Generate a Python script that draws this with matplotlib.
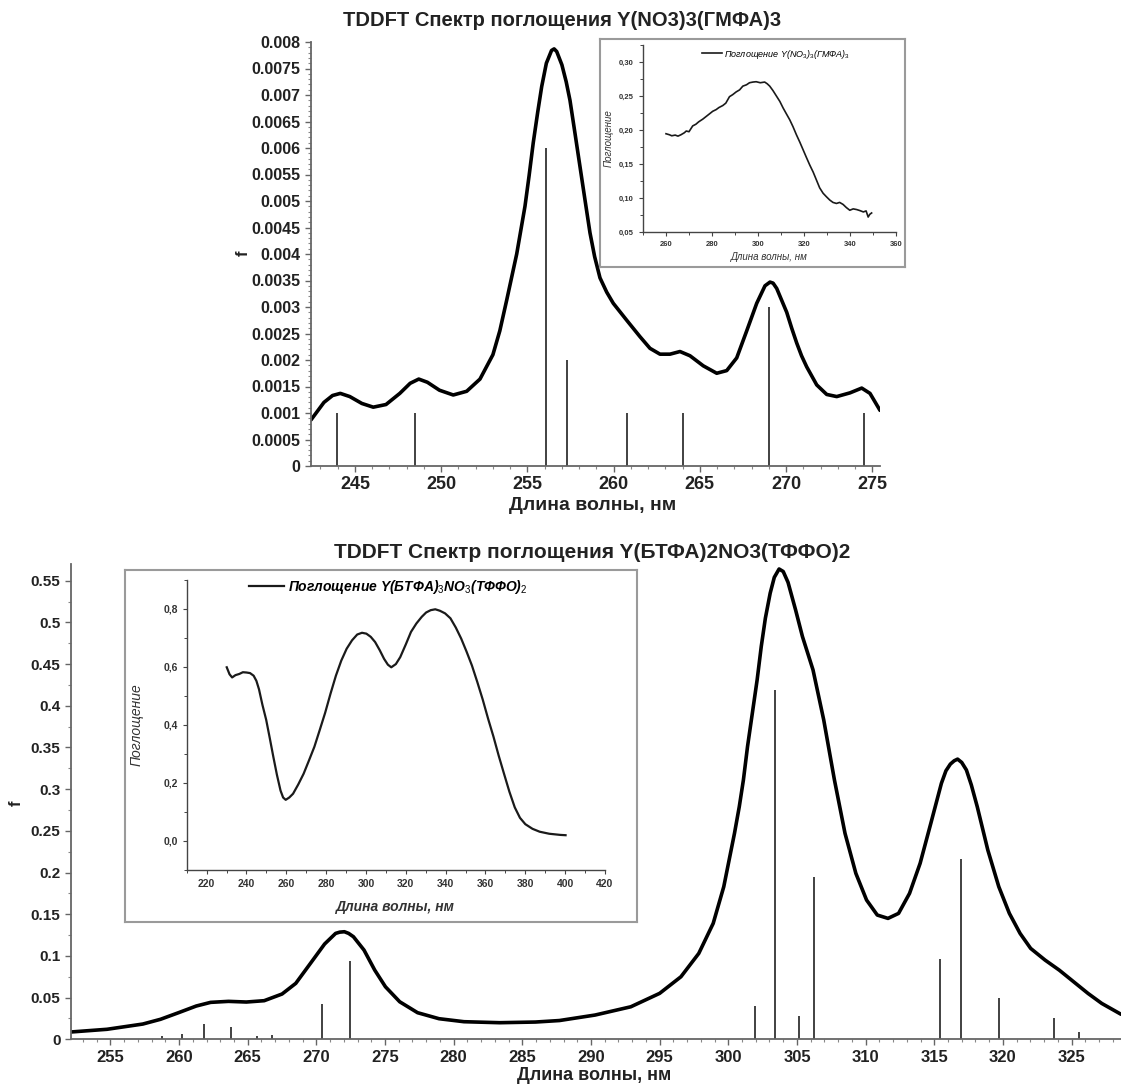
import matplotlib
matplotlib.use('Agg')
import matplotlib.pyplot as plt
from matplotlib.ticker import MultipleLocator

plt.rcParams['font.family'] = ['Liberation Sans', 'DejaVu Sans']
plt.rcParams['mathtext.fontset'] = 'custom'
plt.rcParams['mathtext.rm'] = 'Liberation Sans'
plt.rcParams['mathtext.it'] = 'Liberation Sans:italic'
plt.rcParams['mathtext.bf'] = 'Liberation Sans:bold'

# ---------- верхний график: Y(NO3)3(ГМФА)3 ----------
top_x = [242.45, 243.2, 243.7, 244.15, 244.7, 245.4, 246.06, 246.8, 247.6, 248.2,
         248.7, 249.2, 249.9, 250.7, 251.48, 252.25, 253.0, 253.4, 253.8, 254.38,
         254.86, 255.1, 255.34, 255.6, 255.83, 256.1, 256.4, 256.55, 256.7, 257.0,
         257.25, 257.47, 257.75, 258.05, 258.35, 258.63, 258.9, 259.21, 259.6, 259.98,
         260.76, 261.53, 262.11, 262.69, 263.27, 263.85, 264.43, 265.2, 265.98, 266.56,
         267.14, 267.72, 268.3, 268.78, 269.07, 269.25, 269.46, 270.04, 270.33, 270.62,
         270.9, 271.2, 271.78, 272.36, 272.94, 273.71, 274.39, 274.87, 275.45]
top_f = [0.00087, 0.00120, 0.00133, 0.00137, 0.00131, 0.00118, 0.00111, 0.00116, 0.00137, 0.00156,
         0.00164, 0.00158, 0.00143, 0.00134, 0.00141, 0.00164, 0.00210, 0.00255, 0.00313, 0.00400,
         0.00490, 0.00548, 0.00610, 0.00668, 0.00716, 0.00760, 0.00784, 0.00787, 0.00782, 0.00757,
         0.00725, 0.00690, 0.00630, 0.00565, 0.00500, 0.00440, 0.00395, 0.00355, 0.00328, 0.00307,
         0.00275, 0.00244, 0.00222, 0.00211, 0.00211, 0.00216, 0.00208, 0.00189, 0.00175, 0.00180,
         0.00204, 0.00255, 0.00307, 0.00340, 0.00347, 0.00345, 0.00335, 0.00290, 0.00260, 0.00232,
         0.00208, 0.00187, 0.00153, 0.00135, 0.00131, 0.00138, 0.00147, 0.00137, 0.00105]
top_stick_x = [243.95, 248.5, 256.1, 257.3, 260.76, 264.0, 269.0, 274.5]
top_stick_f = [0.001, 0.001, 0.006, 0.002, 0.001, 0.001, 0.003, 0.001]
top_yticks = [0, 0.0005, 0.001, 0.0015, 0.002, 0.0025, 0.003, 0.0035, 0.004,
              0.0045, 0.005, 0.0055, 0.006, 0.0065, 0.007, 0.0075, 0.008]
top_ylabels = ['0', '0.0005', '0.001', '0.0015', '0.002', '0.0025', '0.003', '0.0035', '0.004',
               '0.0045', '0.005', '0.0055', '0.006', '0.0065', '0.007', '0.0075', '0.008']
top_xticks = [245, 250, 255, 260, 265, 270, 275]

# вставка: экспериментальный спектр
ins1_x = [260, 261.5, 262.5, 264, 265.2, 266.5, 268, 268.8, 270, 271.6, 273, 274.2, 276, 277.5,
          279, 280.3, 281.8, 283, 284.7, 286, 287.6, 289, 290.5, 292, 293.4, 295, 296.3, 297.8,
          299.2, 301, 302.9, 304, 305.1, 306.5, 308, 309.5, 310.9, 312.3, 313.8, 315.2, 316.7,
          318.2, 319.6, 321, 322.5, 324, 325.4, 326.8, 328.3, 329.7, 331.2, 332.6, 334.1, 335.5,
          337, 338.4, 339.9, 341.4, 342.9, 344.3, 345.8, 347, 347.9, 348.6, 349.4]
ins1_a = [0.1945, 0.1930, 0.1915, 0.1925, 0.1910, 0.1930, 0.1960, 0.1985, 0.1975, 0.2060, 0.2085, 0.2120,
          0.2160, 0.2200, 0.2240, 0.2275, 0.2300, 0.2330, 0.2360, 0.2395, 0.2490, 0.2520, 0.2560,
          0.2590, 0.2645, 0.2665, 0.2695, 0.2705, 0.2710, 0.2695, 0.2705, 0.2680, 0.2645, 0.2580,
          0.2500, 0.2420, 0.2325, 0.2240, 0.2150, 0.2050, 0.1930, 0.1820, 0.1710, 0.1600, 0.1485,
          0.1380, 0.1265, 0.1150, 0.1070, 0.1020, 0.0970, 0.0935, 0.0920, 0.0935, 0.0905, 0.0860,
          0.0820, 0.0840, 0.0830, 0.0815, 0.0795, 0.0810, 0.0720, 0.0760, 0.0780]
ins1_yticks = [0.05, 0.10, 0.15, 0.20, 0.25, 0.30]
ins1_ylabels = ['0,05', '0,10', '0,15', '0,20', '0,25', '0,30']
ins1_xticks = [260, 280, 300, 320, 340, 360]

# ---------- нижний график: Y(БТФА)2NO3(ТФФО)2 ----------
bot_x = [252.15, 254.75, 257.36, 258.65, 259.96, 261.25, 262.3, 263.6, 264.9, 266.2, 267.5,
         268.5, 269.57, 270.6, 271.4, 271.7, 272.04, 272.35, 272.7, 273.47, 274.25, 275.03,
         276.07, 277.37, 278.93, 280.75, 283.35, 285.95, 287.7, 290.3, 292.9, 295.0, 296.55,
         297.85, 298.9, 299.67, 300.45, 300.8, 301.1, 301.4, 301.75, 302.1, 302.4, 302.7,
         303.05, 303.35, 303.7, 304.0, 304.35, 304.9, 305.4, 306.17, 306.95, 307.73, 308.5,
         309.29, 310.07, 310.85, 311.63, 312.4, 313.2, 313.97, 314.75, 315.52, 315.85, 316.17,
         316.45, 316.7, 317.0, 317.34, 317.7, 318.13, 318.9, 319.7, 320.47, 321.25, 322.02,
         323.07, 324.1, 325.15, 326.2, 327.2, 328.6]
bot_f = [0.0088, 0.0120, 0.0183, 0.0240, 0.0319, 0.0399, 0.0443, 0.0455, 0.0447, 0.0463, 0.0543,
         0.0671, 0.0911, 0.1143, 0.1270, 0.1285, 0.1290, 0.1270, 0.1230, 0.1070, 0.0830, 0.0630,
         0.0450, 0.0319, 0.0247, 0.0211, 0.0199, 0.0207, 0.0225, 0.0291, 0.0390, 0.0551, 0.0750,
         0.1030, 0.1390, 0.1830, 0.2470, 0.2790, 0.3110, 0.3510, 0.3910, 0.4310, 0.4710, 0.5050,
         0.5350, 0.5540, 0.5640, 0.5610, 0.5480, 0.5150, 0.4830, 0.4430, 0.3830, 0.3110, 0.2470,
         0.1990, 0.1670, 0.1490, 0.1450, 0.1510, 0.1750, 0.2110, 0.2590, 0.3070, 0.3220, 0.3300,
         0.3340, 0.3360, 0.3320, 0.3230, 0.3050, 0.2790, 0.2270, 0.1830, 0.1510, 0.1270, 0.1090,
         0.0950, 0.0830, 0.0690, 0.0550, 0.0430, 0.0300]
bot_stick_x = [258.77, 260.25, 261.85, 263.8, 265.7, 266.78, 270.4, 272.43,
               301.96, 303.41, 305.13, 306.25, 315.42, 316.96, 319.74, 323.7, 325.53]
bot_stick_f = [0.004, 0.0064, 0.018, 0.0144, 0.004, 0.0055, 0.0423, 0.0943,
               0.0403, 0.419, 0.0283, 0.195, 0.0959, 0.2166, 0.0491, 0.0252, 0.0084]
bot_yticks = [0, 0.05, 0.1, 0.15, 0.2, 0.25, 0.3, 0.35, 0.4, 0.45, 0.5, 0.55]
bot_ylabels = ['0', '0.05', '0.1', '0.15', '0.2', '0.25', '0.3', '0.35', '0.4', '0.45', '0.5', '0.55']
bot_xticks = [255, 260, 265, 270, 275, 280, 285, 290, 295, 300, 305, 310, 315, 320, 325]

# вставка: экспериментальный спектр
ins2_x = [230.1, 231.5, 232.8, 234.5, 236.4, 238.2, 240, 241.8, 243.6, 245, 246.3, 248, 249.9,
          251.7, 253.5, 255.3, 257.1, 258.4, 259.7, 261.5, 263.4, 266, 268.7, 271.4, 274.1,
          276.8, 279.5, 282.2, 284.9, 287.6, 290.3, 293, 295.6, 298, 300.2, 302.4, 304.6, 306.9,
          309.1, 311, 312.7, 315, 317.2, 320, 322.6, 325.3, 328, 330.2, 332.5, 334.8, 337.1,
          339.7, 342.4, 345.1, 347.8, 350.5, 353.2, 355.9, 358.6, 361.3, 364, 366.6, 369.3,
          372, 374.7, 377.3, 380, 383.6, 387.2, 392, 397.6, 400.2]
ins2_a = [0.599, 0.575, 0.564, 0.572, 0.576, 0.582, 0.581, 0.579, 0.570, 0.552, 0.523, 0.470, 0.418,
          0.355, 0.290, 0.228, 0.174, 0.150, 0.142, 0.150, 0.163, 0.195, 0.232, 0.278, 0.325,
          0.383, 0.442, 0.508, 0.570, 0.622, 0.663, 0.692, 0.712, 0.718, 0.715, 0.704, 0.686,
          0.658, 0.628, 0.608, 0.599, 0.610, 0.634, 0.678, 0.721, 0.750, 0.773, 0.788, 0.796,
          0.799, 0.794, 0.785, 0.768, 0.736, 0.698, 0.653, 0.605, 0.548, 0.488, 0.422, 0.360,
          0.295, 0.232, 0.170, 0.116, 0.080, 0.058, 0.042, 0.032, 0.025, 0.021, 0.020]
ins2_yticks = [0.0, 0.2, 0.4, 0.6, 0.8]
ins2_ylabels = ['0,0', '0,2', '0,4', '0,6', '0,8']
ins2_xticks = [220, 240, 260, 280, 300, 320, 340, 360, 380, 400, 420]

W, H = 1121, 1086


def rect(l, t, r, b):
    return [l / W, 1 - b / H, (r - l) / W, (b - t) / H]


def style_main(ax):
    for s in ['top', 'right']:
        ax.spines[s].set_visible(False)
    for s in ['left', 'bottom']:
        ax.spines[s].set_color('#666666')
        ax.spines[s].set_linewidth(1.3)
    ax.tick_params(which='major', direction='out', length=4, width=1, color='#666666',
                   labelcolor='#222222')
    ax.tick_params(which='minor', direction='out', length=2, width=0.8, color='#888888')


def style_inset(ax, fs):
    for s in ['top', 'right']:
        ax.spines[s].set_visible(False)
    for s in ['left', 'bottom']:
        ax.spines[s].set_color('#444444')
        ax.spines[s].set_linewidth(1.0)
    ax.tick_params(which='major', direction='out', length=3, width=0.8, color='#444444',
                   labelcolor='#333333', labelsize=fs)
    ax.tick_params(which='minor', direction='out', length=2, width=0.7, color='#444444')
    for lab in ax.get_xticklabels() + ax.get_yticklabels():
        lab.set_fontweight('bold')


def box(r):
    b = fig.add_axes(r)
    b.set_xticks([])
    b.set_yticks([])
    for s in b.spines.values():
        s.set_color('#9a9a9a')
        s.set_linewidth(1.5)
    return b


fig = plt.figure(figsize=(W / 100, H / 100), dpi=100)

# ---- верхний основной ----
ax1 = fig.add_axes(rect(311, 42, 880, 466))
ax1.plot(top_x, top_f, color='black', lw=2.6, solid_joinstyle='round', solid_capstyle='round')
ax1.vlines(top_stick_x, 0, top_stick_f, color='#333333', lw=1.3)
ax1.set_xlim(242.45, 275.45)
ax1.set_ylim(0, 0.008)
ax1.set_yticks(top_yticks, top_ylabels, fontsize=11.5, fontweight='bold')
ax1.set_xticks(top_xticks, [str(v) for v in top_xticks], fontsize=13, fontweight='bold')
ax1.xaxis.set_minor_locator(MultipleLocator(1))
ax1.yaxis.set_minor_locator(MultipleLocator(0.0001))
style_main(ax1)
fig.text(562 / W, 1 - 20 / H, 'TDDFT Спектр поглощения Y(NO3)3(ГМФА)3', ha='center', va='center',
         fontsize=14.5, fontweight='bold', color='#222222')
fig.text(593 / W, 1 - 505 / H, 'Длина волны, нм', ha='center', va='center',
         fontsize=14, fontweight='bold', color='#222222')
fig.text(243 / W, 1 - 253 / H, 'f', ha='center', va='center', rotation=90,
         fontsize=12, fontweight='bold', color='#222222')

box(rect(600, 39, 905, 267))
in1 = fig.add_axes(rect(643, 45, 896, 232))
in1.plot(ins1_x, ins1_a, color='#1a1a1a', lw=1.2,
         label='Поглощение Y(NO$_3$)$_3$(ГМФА)$_3$')
in1.set_xlim(250, 360)
in1.set_ylim(0.05, 0.325)
in1.set_xticks(ins1_xticks, [str(v) for v in ins1_xticks])
in1.set_yticks(ins1_yticks, ins1_ylabels)
in1.xaxis.set_minor_locator(MultipleLocator(10))
in1.yaxis.set_minor_locator(MultipleLocator(0.025))
style_inset(in1, 5.5)
in1.set_xlabel('Длина волны, нм', fontsize=7, style='italic', color='#333333', labelpad=3)
in1.set_ylabel('Поглощение', fontsize=7, style='italic', color='#333333', labelpad=4)
in1.legend(loc='upper left', bbox_to_anchor=(0.2, 1.03), frameon=False, handlelength=2.2,
           handletextpad=0.3, prop={'size': 6.5, 'style': 'italic'})

# ---- нижний основной ----
ax2 = fig.add_axes(rect(71, 564, 1121, 1039.3))
ax2.plot(bot_x, bot_f, color='black', lw=2.6, solid_joinstyle='round', solid_capstyle='round')
ax2.vlines(bot_stick_x, 0, bot_stick_f, color='#333333', lw=1.3)
ax2.set_xlim(252.13, 328.6)
ax2.set_ylim(0, 0.57)
ax2.set_yticks(bot_yticks, bot_ylabels, fontsize=11, fontweight='bold')
ax2.set_xticks(bot_xticks, [str(v) for v in bot_xticks], fontsize=12, fontweight='bold')
ax2.xaxis.set_minor_locator(MultipleLocator(1))
ax2.yaxis.set_minor_locator(MultipleLocator(0.025))
style_main(ax2)
fig.text(592 / W, 1 - 553 / H, 'TDDFT Спектр поглощения Y(БТФА)2NO3(ТФФО)2', ha='center',
         va='center', fontsize=15, fontweight='bold', color='#222222')
fig.text(594 / W, 1 - 1075 / H, 'Длина волны, нм', ha='center', va='center',
         fontsize=13, fontweight='bold', color='#222222')
fig.text(16 / W, 1 - 803 / H, 'f', ha='center', va='center', rotation=90,
         fontsize=12, fontweight='bold', color='#222222')

box(rect(125, 570, 637, 922))
in2 = fig.add_axes(rect(186.7, 580, 605, 870))
in2.plot(ins2_x, ins2_a, color='#1a1a1a', lw=1.6,
         label='Поглощение Y(БТФА)$_3$NO$_3$(ТФФО)$_2$')
in2.set_xlim(210, 420)
in2.set_ylim(-0.1, 0.9)
in2.set_xticks(ins2_xticks, [str(v) for v in ins2_xticks])
in2.set_yticks(ins2_yticks, ins2_ylabels)
in2.xaxis.set_minor_locator(MultipleLocator(10))
in2.yaxis.set_minor_locator(MultipleLocator(0.1))
style_inset(in2, 7.5)
in2.set_xlabel('Длина волны, нм', fontsize=10, style='italic', fontweight='bold',
               color='#333333', labelpad=8)
in2.set_ylabel('Поглощение', fontsize=10, style='italic', color='#333333', labelpad=14)
in2.legend(loc='upper left', bbox_to_anchor=(0.12, 1.05), frameon=False, handlelength=2.5,
           handletextpad=0.3, prop={'size': 10, 'style': 'italic', 'weight': 'bold'})

fig.savefig('out.png', dpi=100, facecolor='white')
